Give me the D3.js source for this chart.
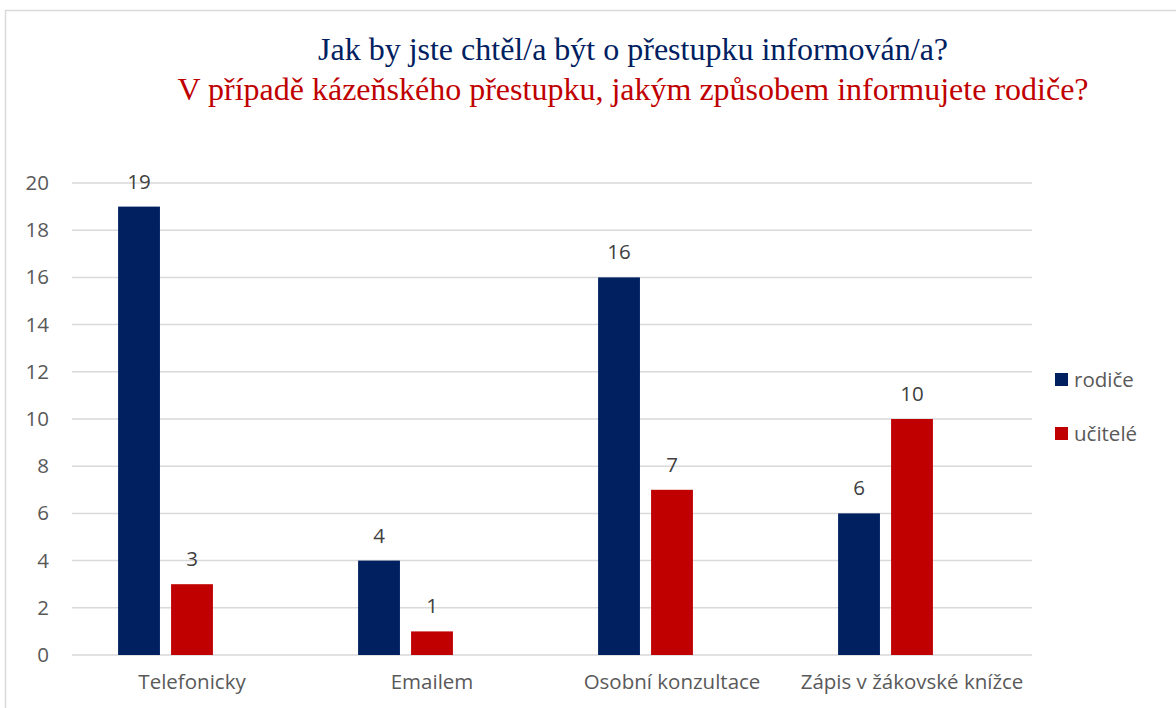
<!DOCTYPE html>
<html>
<head>
<meta charset="utf-8">
<script src="https://cdn.jsdelivr.net/npm/d3@7"></script>
<style>
  body { margin: 0; background: #fff; }
  svg text { font-family: "Open Sans", "Noto Sans", sans-serif; }
</style>
</head>
<body>
<svg id="chart" width="1176" height="708"></svg>
<script>
var categories = ["Telefonicky", "Emailem", "Osobní konzultace", "Zápis v žákovské knížce"];
var series = ["rodiče", "učitelé"];
var rodice = [19, 4, 16, 6];
var ucitele = [3, 1, 7, 10];
var yTicks = [0, 2, 4, 6, 8, 10, 12, 14, 16, 18, 20];
var titleLines = ["Jak by jste chtěl/a být o přestupku informován/a?",
  "V případě kázeňského přestupku, jakým způsobem informujete rodiče?"];

var colors = { "rodiče": "#002060", "učitelé": "#C00000" };
var labelSize = "20.5px";

var svg = d3.select("#chart"),
  margin = { left: 72, right: 144, top: 183, bottom: 53 },
  width = +svg.attr("width"),
  height = +svg.attr("height");

// chart frame
svg.append("rect")
  .attr("x", 5.5).attr("y", 10.5)
  .attr("width", 1200).attr("height", 800)
  .attr("fill", "none").attr("stroke", "#d9d9d9").attr("stroke-width", 1.5);

// titles
svg.append("text")
  .attr("x", 633).attr("y", 60)
  .attr("text-anchor", "middle")
  .style("font-family", "'Liberation Serif', 'Times New Roman', serif")
  .style("font-size", "32px")
  .attr("fill", "#002060")
  .text(titleLines[0]);
svg.append("text")
  .attr("x", 633).attr("y", 100)
  .attr("text-anchor", "middle")
  .style("font-family", "'Liberation Serif', 'Times New Roman', serif")
  .style("font-size", "32px")
  .attr("fill", "#C00000")
  .text(titleLines[1]);

var x0 = d3.scaleBand()
  .domain(categories)
  .range([margin.left, width - margin.right]);

// third slot stays empty (as in the source chart)
var x1 = d3.scaleBand()
  .domain(series.concat([""]))
  .range([0, x0.bandwidth()])
  .paddingInner(0.21)
  .paddingOuter(0.87);

var y = d3.scaleLinear()
  .domain([0, 20])
  .range([height - margin.bottom, margin.top]);

// gridlines
svg.append("g")
  .selectAll("line")
  .data(yTicks)
  .enter().append("line")
  .attr("x1", margin.left).attr("x2", width - margin.right)
  .attr("y1", function (d) { return y(d); })
  .attr("y2", function (d) { return y(d); })
  .attr("stroke", "#d9d9d9").attr("stroke-width", 1.5);

// y axis labels
var yAxis = d3.axisLeft(y).tickValues(yTicks).tickSize(0).tickPadding(23);
svg.append("g")
  .attr("transform", "translate(" + margin.left + ",0)")
  .call(yAxis)
  .call(function (g) { g.select(".domain").remove(); })
  .selectAll("text")
  .style("font-family", "'Open Sans', sans-serif")
  .style("font-size", labelSize)
  .attr("fill", "#595959");

// x axis labels
var xAxis = d3.axisBottom(x0).tickSize(0).tickPadding(19);
svg.append("g")
  .attr("transform", "translate(0," + y(0) + ")")
  .call(xAxis)
  .call(function (g) { g.select(".domain").remove(); })
  .selectAll("text")
  .style("font-family", "'Open Sans', sans-serif")
  .style("font-size", labelSize)
  .attr("fill", "#595959");

var rows = categories.map(function (c, i) {
  return { cat: c, values: [{ key: "rodiče", value: rodice[i] }, { key: "učitelé", value: ucitele[i] }] };
});

var group = svg.append("g")
  .selectAll("g")
  .data(rows)
  .enter().append("g")
  .attr("transform", function (d) { return "translate(" + x0(d.cat) + ",0)"; });

group.selectAll("rect")
  .data(function (d) { return d.values; })
  .enter().append("rect")
  .attr("x", function (d) { return x1(d.key); })
  .attr("y", function (d) { return y(d.value); })
  .attr("width", x1.bandwidth())
  .attr("height", function (d) { return y(0) - y(d.value); })
  .attr("fill", function (d) { return colors[d.key]; });

group.selectAll("text")
  .data(function (d) { return d.values; })
  .enter().append("text")
  .attr("x", function (d) { return x1(d.key) + x1.bandwidth() / 2; })
  .attr("y", function (d) { return y(d.value) - 18; })
  .attr("text-anchor", "middle")
  .style("font-size", labelSize)
  .attr("fill", "#404040")
  .text(function (d) { return d.value; });

// legend
var legend = svg.append("g")
  .selectAll("g")
  .data(series)
  .enter().append("g")
  .attr("transform", function (d, i) { return "translate(1055," + (373 + i * 54) + ")"; });

legend.append("rect")
  .attr("width", 13).attr("height", 13)
  .attr("fill", function (d) { return colors[d]; });

legend.append("text")
  .attr("x", 19).attr("y", 14)
  .style("font-size", labelSize)
  .attr("fill", "#595959")
  .text(function (d) { return d; });
</script>
</body>
</html>
